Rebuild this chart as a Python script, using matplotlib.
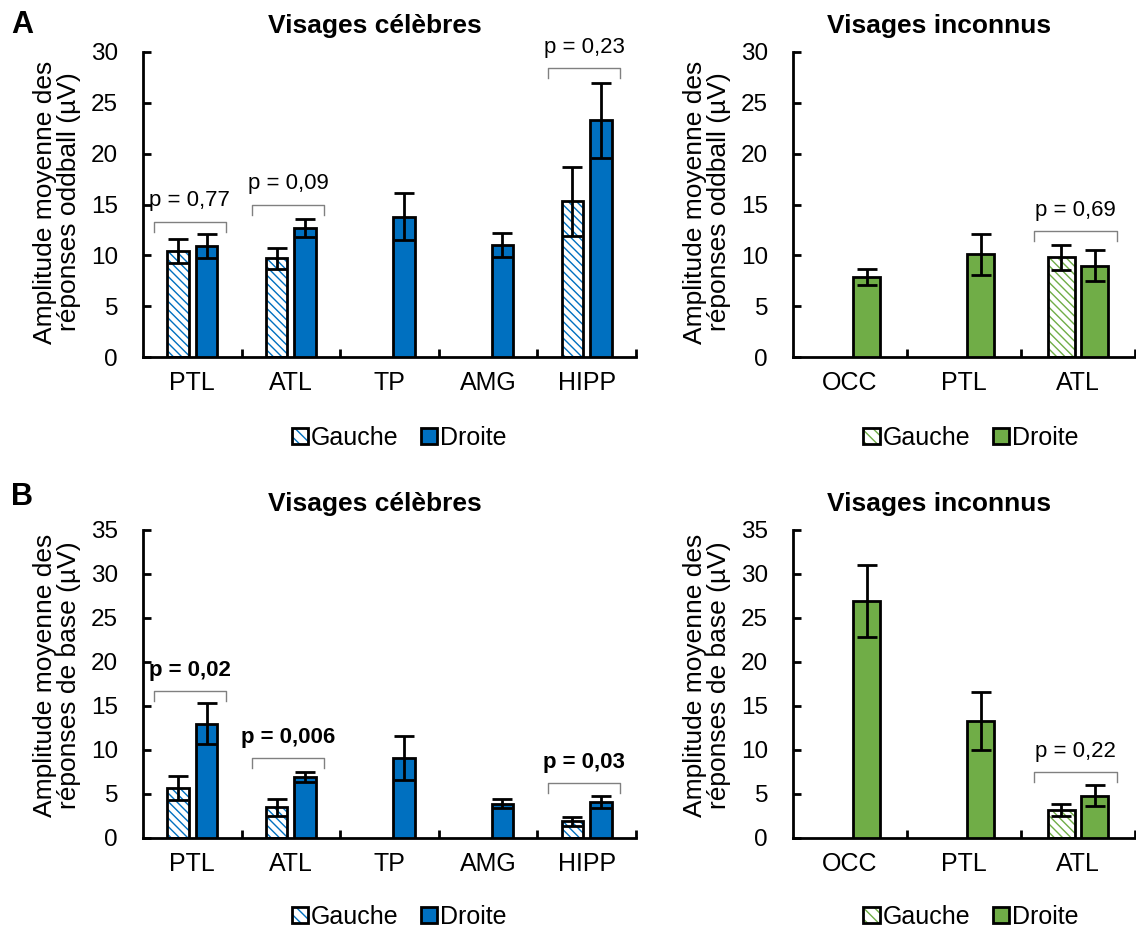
import numpy as np
import matplotlib.pyplot as plt
from matplotlib.patches import Patch

plt.rcParams['font.family'] = ['Liberation Sans', 'DejaVu Sans']
plt.rcParams['hatch.linewidth'] = 1.0

nan = np.nan

# A - reponses oddball
a_cel_regions = ['PTL', 'ATL', 'TP', 'AMG', 'HIPP']
a_cel_gauche = [10.4, 9.7, nan, nan, 15.3]
a_cel_gauche_err = [1.2, 1.0, nan, nan, 3.4]
a_cel_droite = [10.9, 12.7, 13.8, 11.0, 23.3]
a_cel_droite_err = [1.2, 0.9, 2.3, 1.2, 3.7]

a_inc_regions = ['OCC', 'PTL', 'ATL']
a_inc_gauche = [nan, nan, 9.8]
a_inc_gauche_err = [nan, nan, 1.2]
a_inc_droite = [7.9, 10.1, 9.0]
a_inc_droite_err = [0.8, 2.0, 1.55]

# B - reponses de base
b_cel_regions = ['PTL', 'ATL', 'TP', 'AMG', 'HIPP']
b_cel_gauche = [5.7, 3.5, nan, nan, 1.9]
b_cel_gauche_err = [1.35, 0.95, nan, nan, 0.5]
b_cel_droite = [13.0, 6.9, 9.1, 3.9, 4.1]
b_cel_droite_err = [2.3, 0.55, 2.5, 0.5, 0.65]

b_inc_regions = ['OCC', 'PTL', 'ATL']
b_inc_gauche = [nan, nan, 3.2]
b_inc_gauche_err = [nan, nan, 0.7]
b_inc_droite = [26.9, 13.3, 4.8]
b_inc_droite_err = [4.1, 3.3, 1.2]

# p-values: (region index, bracket height, text, bold)
a_cel_pvals = [(0, 13.3, 'p = 0,77', False), (1, 15.0, 'p = 0,09', False),
               (4, 28.4, 'p = 0,23', False)]
a_inc_pvals = [(2, 12.4, 'p = 0,69', False)]
b_cel_pvals = [(0, 16.7, 'p = 0,02', True), (1, 9.1, 'p = 0,006', True),
               (4, 6.25, 'p = 0,03', True)]
b_inc_pvals = [(2, 7.5, 'p = 0,22', False)]

blue = '#0070C0'
green = '#70AD47'
HATCH = '\\\\\\\\'
W, H = 1136, 932

fig = plt.figure(figsize=(W / 100, H / 100), dpi=100)


def px_axes(x0, x1, ytop, ybot):
    return fig.add_axes([x0 / W, 1 - ybot / H, (x1 - x0) / W, (ybot - ytop) / H])


def draw_panel(ax, regions, g, g_err, d, d_err, color, ymax, width, pvals, leg_y):
    n = len(regions)
    x = np.arange(n)
    off = 0.145
    g = np.array(g)
    d = np.array(d)
    ok = ~np.isnan(g)
    xg = x[ok] - off
    ax.bar(xg, g[ok], width, color='white', edgecolor=color, hatch=HATCH,
           linewidth=0, zorder=2)
    ax.bar(xg, g[ok], width, fill=False, edgecolor='black', linewidth=2, zorder=3)
    ax.errorbar(xg, g[ok], yerr=np.array(g_err)[ok], fmt='none', ecolor='black',
                elinewidth=2, capsize=7, capthick=2, zorder=4)
    ax.bar(x + off, d, width, color=color, edgecolor='black', linewidth=2, zorder=3)
    ax.errorbar(x + off, d, yerr=d_err, fmt='none', ecolor='black',
                elinewidth=2, capsize=7, capthick=2, zorder=4)

    drop = ymax * 0.033
    for i, yb, txt, bold in pvals:
        x0, x1 = i - 0.39, i + 0.34
        ax.plot([x0, x0, x1, x1], [yb - drop, yb, yb, yb - drop],
                color='#808080', lw=1.0, zorder=2, clip_on=False)
        ax.annotate(txt, ((x0 + x1) / 2, yb), xytext=(0, 15), textcoords='offset points',
                    ha='center', va='center', fontsize=16,
                    fontweight='bold' if bold else 'normal')

    ax.set_xlim(-0.5, n - 0.5)
    ax.set_ylim(0, ymax)
    ax.set_xticks(x)
    ax.set_xticklabels(regions)
    ax.set_xticks(np.arange(n) + 0.5, minor=True)
    ax.set_yticks(range(0, ymax + 1, 5))
    ax.tick_params(axis='x', which='major', length=0, pad=10, labelsize=18)
    ax.tick_params(axis='x', which='minor', direction='in', length=6, width=2)
    ax.tick_params(axis='y', direction='in', length=6, width=2, pad=18, labelsize=17.5)
    for s in ['top', 'right']:
        ax.spines[s].set_visible(False)
    for s in ['left', 'bottom']:
        ax.spines[s].set_linewidth(2)

    h_g = (Patch(facecolor='white', edgecolor=color, hatch='\\\\\\', linewidth=0),
           Patch(fill=False, edgecolor='black', linewidth=2))
    h_d = Patch(facecolor=color, edgecolor='black', linewidth=2)
    ax.legend([h_g, h_d], ['Gauche', 'Droite'], loc='center', bbox_to_anchor=(0.52, leg_y),
              ncol=2, frameon=False, fontsize=18, handlelength=0.65, handleheight=0.65,
              handletextpad=0.12, columnspacing=0.9)


ax1 = px_axes(143, 636, 52, 357)
draw_panel(ax1, a_cel_regions, a_cel_gauche, a_cel_gauche_err, a_cel_droite,
           a_cel_droite_err, blue, 30, 0.22, a_cel_pvals, -0.265)
ax2 = px_axes(793, 1135, 52, 357)
draw_panel(ax2, a_inc_regions, a_inc_gauche, a_inc_gauche_err, a_inc_droite,
           a_inc_droite_err, green, 30, 0.23, a_inc_pvals, -0.265)
ax3 = px_axes(143, 636, 530, 838)
draw_panel(ax3, b_cel_regions, b_cel_gauche, b_cel_gauche_err, b_cel_droite,
           b_cel_droite_err, blue, 35, 0.22, b_cel_pvals, -0.256)
ax4 = px_axes(793, 1135, 530, 838)
draw_panel(ax4, b_inc_regions, b_inc_gauche, b_inc_gauche_err, b_inc_droite,
           b_inc_droite_err, green, 35, 0.23, b_inc_pvals, -0.256)

lab_a = 'Amplitude moyenne des\nréponses oddball (µV)'
lab_b = 'Amplitude moyenne des\nréponses de base (µV)'
for xp, yp, lab in [(57, 202, lab_a), (707, 202, lab_a), (57, 675, lab_b), (707, 675, lab_b)]:
    fig.text(xp / W, 1 - yp / H, lab, rotation=90, ha='center', va='center',
             fontsize=19, linespacing=0.95)

for xp, yp, t in [(375, 26, 'Visages célèbres'), (939, 26, 'Visages inconnus'),
                  (375, 504, 'Visages célèbres'), (939, 504, 'Visages inconnus')]:
    fig.text(xp / W, 1 - yp / H, t, ha='center', va='center', fontsize=19, fontweight='bold')

fig.text(22 / W, 1 - 25 / H, 'A', ha='center', va='center', fontsize=22, fontweight='bold')
fig.text(22 / W, 1 - 497 / H, 'B', ha='center', va='center', fontsize=22, fontweight='bold')

fig.savefig('out.png', dpi=100)
